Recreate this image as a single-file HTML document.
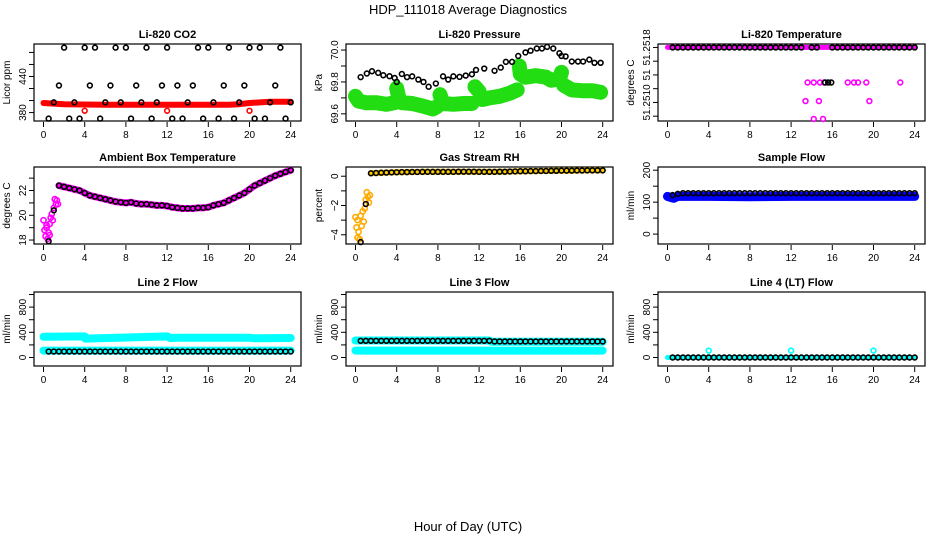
<!DOCTYPE html>
<html><head><meta charset="utf-8"><style>
html,body{margin:0;padding:0;background:#fff;width:936px;height:540px;overflow:hidden}
svg text{font-family:"Liberation Sans",sans-serif}
</style></head><body>
<svg id="chart" width="936" height="540" viewBox="0 0 936 540" xmlns="http://www.w3.org/2000/svg">
<text x="468" y="14" font-size="13" text-anchor="middle">HDP_111018  Average Diagnostics</text>
<text x="468" y="531" font-size="13" text-anchor="middle">Hour of Day (UTC)</text>
</svg>
<script>
const hours = [0.5,1,1.5,2,2.5,3,3.5,4,4.5,5,5.5,6,6.5,7,7.5,8,8.5,9,9.5,10,10.5,11,11.5,12,12.5,13,13.5,14,14.5,15,15.5,16,16.5,17,17.5,18,18.5,19,19.5,20,20.5,21,21.5,22,22.5,23,23.5,24];
const xTicks = [0,4,8,12,16,20,24];

const co2Black = [370,397,425,488,370,397,370,488,425,488,370,397,425,488,397,488,370,425,397,488,370,397,425,488,370,425,370,397,425,488,370,488,397,370,425,488,370,397,425,488,370,488,370,397,425,488,370,397];
const co2BandHours = [0,2,6,10,14,18,19,20,22,24];
const co2BandVals = [396,394,393,393,393,393,394,396,398,398];
const co2OutHours = [4,12,20];
const co2OutVals = [383,383,383];

const presHours = [0.5,1.1,1.6,2.2,2.7,3.3,3.8,4,4.5,5,5.5,6.1,6.6,7.1,7.8,8.5,9,9.5,10.1,10.7,11.3,11.7,12.5,13.5,14.1,14.6,15.2,15.8,16.5,17,17.6,18.1,18.6,19.2,19.8,20,20.4,21,21.6,22.1,22.7,23.2,23.8];
const presVals = [69.83,69.853,69.867,69.857,69.842,69.836,69.825,69.80,69.85,69.83,69.835,69.815,69.80,69.77,69.79,69.835,69.815,69.835,69.832,69.84,69.848,69.875,69.884,69.87,69.89,69.926,69.926,69.963,69.985,69.996,70.01,70.01,70.02,70.01,69.98,69.963,69.96,69.928,69.928,69.928,69.94,69.92,69.92];
const greenHours = [0,0.3,1,2,3,3.8,null,4,4.2,4.5,5.5,6.5,7,7.5,7.9,null,8.2,8.5,9.5,10.5,11.3,null,11.6,12,null,12.3,13,14,15,15.7,null,15.9,16,16.5,17.5,18.5,19,19.8,20,null,20.2,21,22,23,23.8];
const greenVals = [69.71,69.68,69.67,69.67,69.66,69.67,null,69.76,69.70,69.67,69.665,69.65,69.64,69.63,69.645,null,69.72,69.665,69.66,69.665,69.665,null,69.77,69.74,null,69.69,69.70,69.71,69.73,69.75,null,69.90,69.85,69.83,69.84,69.83,69.81,69.82,69.86,null,69.78,69.75,69.745,69.745,69.735];

const tempTop = 51.2518;
const tempBlack = [51.2518,51.2518,51.2518,51.2518,51.2518,51.2518,51.2518,51.2518,51.2518,51.2518,51.2518,51.2518,51.2518,51.2518,51.2518,51.2518,51.2518,51.2518,51.2518,51.2518,51.2518,51.2518,51.2518,51.2518,51.2518,51.2518,null,51.2518,51.2518,null,null,51.2518,51.2518,51.2518,51.2518,51.2518,51.2518,51.2518,51.2518,51.2518,51.2518,51.2518,51.2518,51.2518,51.2518,51.2518,51.2518,51.2518];
const tempPinkHours = [13.6,14.2,14.8,15.2,17.5,18.1,18.5,19.3,22.6,13.4,14.7,19.6,14.2,15.1];
const tempPinkVals = [51.25129,51.25129,51.25129,51.25129,51.25129,51.25129,51.25129,51.25129,51.25129,51.25102,51.25102,51.25102,51.25076,51.25076];
const tempBlackOddHours = [15.3,15.6,15.9];
const tempBlackOddVals = [51.25129,51.25129,51.25129];

const ambBlack = [17.9,20.4,22.4,22.3,22.2,22.1,22.0,21.8,21.6,21.5,21.4,21.3,21.2,21.1,21.05,21.0,21.05,20.95,20.9,20.9,20.85,20.8,20.8,20.75,20.65,20.6,20.55,20.55,20.55,20.6,20.6,20.65,20.8,20.9,21.0,21.2,21.4,21.6,21.8,22.1,22.4,22.6,22.8,23.0,23.2,23.35,23.5,23.64];
const ambPinkHours = [0,0.1,0.2,0.3,0.4,0.5,0.6,0.7,0.8,0.9,1.0,1.1,1.2,1.3,1.4,0.3,0.6];
const ambPinkVals = [19.6,18.8,18.3,19.0,18.1,18.6,19.3,19.8,20.1,19.6,20.6,21.3,20.9,21.2,20.9,19.2,18.4];

const rhBlack = [-4.5,-1.9,0.2,0.22,0.24,0.25,0.26,0.27,0.28,0.28,0.29,0.29,0.3,0.3,0.3,0.3,0.3,0.3,0.3,0.31,0.31,0.31,0.31,0.3,0.3,0.3,0.3,0.31,0.31,0.32,0.33,0.34,0.34,0.35,0.35,0.36,0.36,0.37,0.37,0.38,0.38,0.38,0.39,0.39,0.4,0.4,0.4,0.4];
const rhYellowHours = [0,0.1,0.2,0.3,0.4,0.5,0.6,0.7,0.8,0.9,1.0,1.1,1.2,1.3,1.4,0.2];
const rhYellowVals = [-2.8,-3.5,-4.2,-3.8,-4.3,-2.7,-3.4,-2.4,-3.1,-2.2,-1.6,-1.1,-1.4,-1.8,-1.3,-3.0];

const sampleBlack = [122,126,128,128,128,128,128,128,128,128,128,128,128,128,128,128,128,128,128,128,128,128,128,128,128,128,128,128,128,128,128,128,128,128,128,128,128,128,128,128,128,128,128,128,128,128,128,128];
const sampleBandHours = [0,0.6,1,4,8,12,16,20,24];
const sampleBandVals = [118,112,118,118,117,118,118,118,118];

const line2Black = [95,95,95,95,95,95,95,95,95,95,95,95,95,95,95,95,95,95,95,95,95,95,95,95,95,95,95,95,95,95,95,95,95,95,95,95,95,95,95,95,95,95,95,95,95,95,95,95];
const line2HighHours = [0,4,4.05,12,12.3,13,16,20,20.5,24];
const line2HighVals = [330,335,300,335,310,315,315,315,305,310];
const line2LowHours = [0,24];
const line2LowVals = [110,110];

const line3Black = [265,265,265,265,265,265,265,265,265,265,265,265,265,265,265,265,265,265,265,265,265,265,265,265,265,265,255,255,255,255,255,255,255,255,255,255,255,255,255,255,255,255,255,255,255,255,255,255];
const line3HighHours = [0,13,13.2,24];
const line3HighVals = [270,270,250,250];
const line3LowHours = [0,24];
const line3LowVals = [110,110];

const line4Black = [0,0,0,0,0,0,0,0,0,0,0,0,0,0,0,0,0,0,0,0,0,0,0,0,0,0,0,0,0,0,0,0,0,0,0,0,0,0,0,0,0,0,0,0,0,0,0,0];
const line4BandHours = [0,24];
const line4BandVals = [0,0];
const line4OutHours = [4,12,20];
const line4OutVals = [110,110,110];

const NS = "http://www.w3.org/2000/svg";
const svg = document.getElementById('chart');
const colLeft = [34,346,658];
const rowTop = [44,167,292];
const rowBot = [121,244,366];
const PW = 267;

function mk(tag, attrs, parent){
  const e = document.createElementNS(NS, tag);
  for (const k in attrs) e.setAttribute(k, attrs[k]);
  (parent||svg).appendChild(e);
  return e;
}

function makePanel(col,row,ylim,title,ylab,yTicks,yLabels){
  const L = colLeft[col], T = rowTop[row], B = rowBot[row];
  const g = mk('g',{});
  
  
  const xs = h => L + 9.5 + h * (247.2/24);
  const ys = v => B - (v - ylim[0]) / (ylim[1]-ylim[0]) * (B - T);
  const t = mk('text',{x:L+PW/2, y:T-6, 'font-size':11, 'font-weight':'bold', 'text-anchor':'middle'}, g);
  t.textContent = title;
  
  
  const yl = mk('text',{x:0,y:0,'font-size':10,'text-anchor':'middle',transform:`translate(${L-24},${(T+B)/2}) rotate(-90)`}, g);
  yl.textContent = ylab;
  
  
  const box = mk('rect',{x:L,y:T,width:PW,height:B-T,fill:'none',stroke:'#000','stroke-width':1.2}, g);
  
  
  xTicks.forEach(h=>{
    const tk = mk('line',{x1:xs(h),x2:xs(h),y1:B+1,y2:B+6,stroke:'#000'}, g);
    
    
    const tl = mk('text',{x:xs(h),y:B+17,'font-size':10,'text-anchor':'middle'}, g);
    tl.textContent = h;
    
    
  });
  yTicks.forEach(v=>{
    const tk = mk('line',{x1:L-5,x2:L,y1:ys(v),y2:ys(v),stroke:'#000'}, g);
    
    
  });
  yLabels.forEach(([v,s])=>{
    const tl = mk('text',{x:0,y:0,'font-size':10,'text-anchor':'middle',transform:`translate(${L-8},${ys(v)}) rotate(-90)`}, g);
    tl.textContent = s;
    
    
  });
  return {g,xs,ys,L,T,B};
}

function band(p,hs,vs,color,w,name){
  let d='', start=true;
  for(let i=0;i<hs.length;i++){
    if(hs[i]===null||vs[i]===null){start=true;continue;}
    d += (start?'M':'L') + p.xs(hs[i]).toFixed(1)+','+p.ys(vs[i]).toFixed(1)+' ';
    start=false;
  }
  const e = mk('path',{d:d,fill:'none',stroke:color,'stroke-width':w,'stroke-linecap':'round','stroke-linejoin':'round'}, p.g);
  
  
}
function pts(p,hs,vs,color,name,r){
  for(let i=0;i<hs.length;i++){
    if(hs[i]===null||vs[i]===null) continue;
    const c = mk('circle',{cx:p.xs(hs[i]),cy:p.ys(vs[i]),r:r||2.4,fill:'none',stroke:color,'stroke-width':1.6}, p.g);
    
    
  }
}

// Li-820 CO2
let p = makePanel(0,0,[366,494],'Li-820 CO2','Licor ppm',[380,400,420,440,460,480],[[380,'380'],[440,'440']]);
band(p,co2BandHours,co2BandVals,'#ff0000',6,'co2-red-band');
pts(p,co2OutHours,co2OutVals,'#ff0000','co2-red-point');
pts(p,hours,co2Black,'#000','co2-mean-point');

// Pressure
p = makePanel(1,0,[69.555,70.038],'Li-820 Pressure','kPa',[69.6,69.7,69.8,69.9,70.0],[[69.6,'69.6'],[69.8,'69.8'],[70.0,'70.0']]);
band(p,greenHours,greenVals,'#22dd11',15,'pressure-green-band');
pts(p,presHours,presVals,'#000','pressure-mean-point');

// Temperature
p = makePanel(2,0,[51.25073,51.25185],'Li-820 Temperature','degrees C',[51.2508,51.2510,51.2512,51.2514,51.2516,51.2518],[[51.2518,'51.2518'],[51.2514,'51'],[51.2510,'51.2510']]);
band(p,[0,24],[tempTop,tempTop],'#ff00ff',5,'temp-pink-band');
pts(p,tempPinkHours,tempPinkVals,'#ff00ff','temp-pink-point');
pts(p,hours,tempBlack,'#000','temp-mean-point');
pts(p,tempBlackOddHours,tempBlackOddVals,'#000','temp-mean-point');

// Ambient
p = makePanel(0,1,[17.68,23.9],'Ambient Box Temperature','degrees C',[18,19,20,21,22,23],[[18,'18'],[20,'20'],[22,'22']]);
pts(p,ambPinkHours,ambPinkVals,'#ff00ff','ambient-pink-point',2.6);
band(p,hours.slice(2),ambBlack.slice(2),'#ff00ff',7,'ambient-pink-band');
pts(p,hours,ambBlack,'#000','ambient-mean-point');

// RH
p = makePanel(1,1,[-4.63,0.63],'Gas Stream RH','percent',[-4,-3,-2,-1,0],[[-4,'\u22124'],[-2,'\u22122'],[0,'0']]);
pts(p,rhYellowHours,rhYellowVals,'#ffaa00','rh-yellow-point',2.6);
band(p,hours.slice(2),rhBlack.slice(2),'#ffcc00',6,'rh-yellow-band');
pts(p,hours,rhBlack,'#000','rh-mean-point');

// Sample flow
p = makePanel(2,1,[-31,210],'Sample Flow','ml/min',[0,50,100,150,200],[[0,'0'],[100,'100'],[200,'200']]);
band(p,sampleBandHours,sampleBandVals,'#0000ff',9,'sample-blue-band');
pts(p,hours,sampleBlack,'#000','sample-mean-point');

const flowTicks = [0,200,400,600,800,1000];
const flowLabels = [[0,'0'],[400,'400'],[800,'800']];
// Line 2
p = makePanel(0,2,[-135,1040],'Line 2 Flow','ml/min',flowTicks,flowLabels);
band(p,line2HighHours,line2HighVals,'#00ffff',8,'line2-cyan-high');
band(p,line2LowHours,line2LowVals,'#00ffff',8,'line2-cyan-low');
pts(p,hours,line2Black,'#000','line2-mean-point');

// Line 3
p = makePanel(1,2,[-135,1040],'Line 3 Flow','ml/min',flowTicks,flowLabels);
band(p,line3LowHours,line3LowVals,'#00ffff',8,'line3-cyan-low');
band(p,line3HighHours,line3HighVals,'#00ffff',8,'line3-cyan-high');
pts(p,hours,line3Black,'#000','line3-mean-point');

// Line 4
p = makePanel(2,2,[-135,1040],'Line 4 (LT) Flow','ml/min',flowTicks,flowLabels);
band(p,line4BandHours,line4BandVals,'#00ffff',5,'line4-cyan-band');
pts(p,line4OutHours,line4OutVals,'#00ffff','line4-cyan-point');
pts(p,hours,line4Black,'#000','line4-mean-point');
</script>
</body></html>
